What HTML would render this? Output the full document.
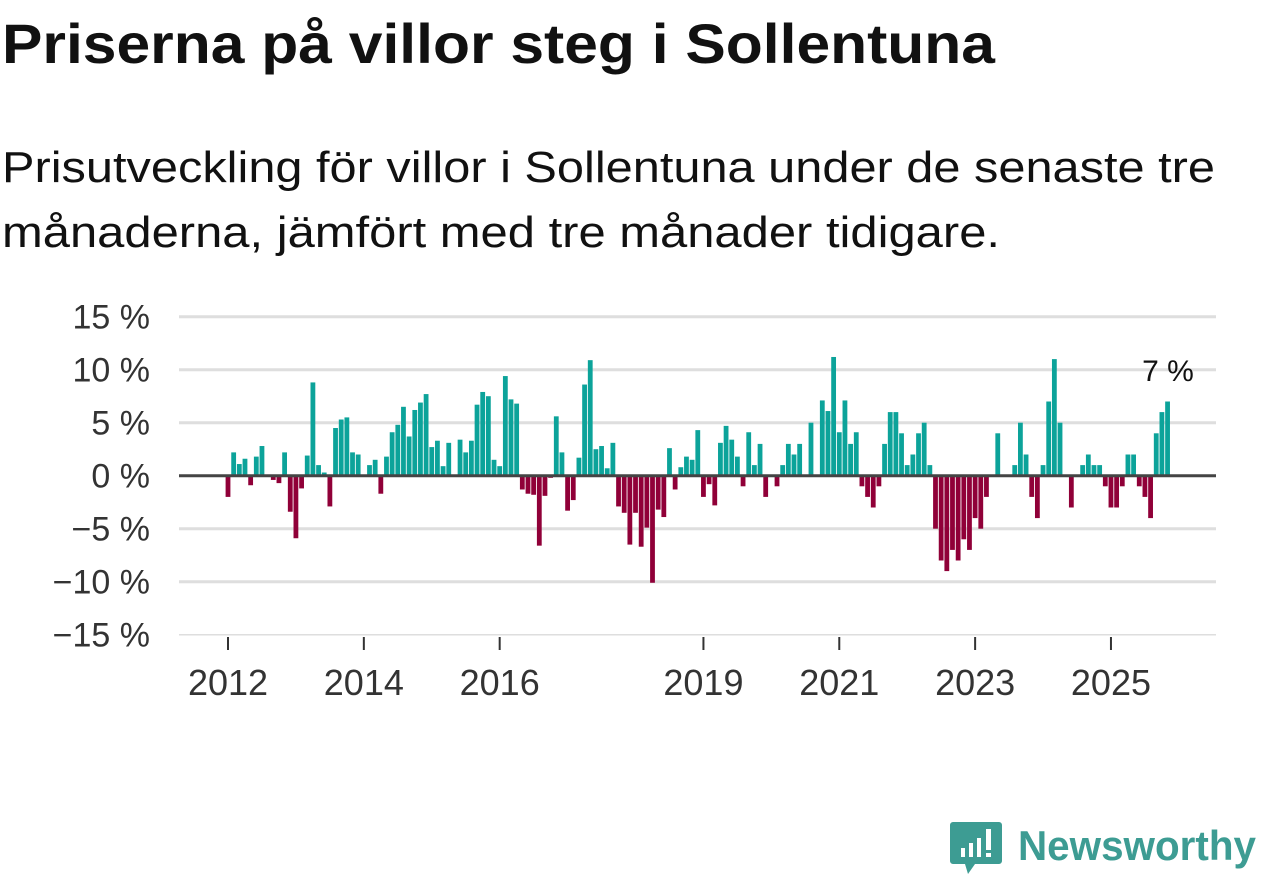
<!DOCTYPE html>
<html><head><meta charset="utf-8"><style>
html,body{margin:0;padding:0;background:#fff;}
svg{display:block;font-family:"Liberation Sans",sans-serif;}
</style></head><body>
<svg id="chart" width="1262" height="879" viewBox="0 0 1262 879" xmlns="http://www.w3.org/2000/svg">
<text x="2" y="63" font-size="56" font-weight="bold" fill="#111" textLength="993" lengthAdjust="spacingAndGlyphs">Priserna på villor steg i Sollentuna</text>
<text x="2" y="182" font-size="44" fill="#111" textLength="1213" lengthAdjust="spacingAndGlyphs">Prisutveckling för villor i Sollentuna under de senaste tre</text>
<text x="2" y="247" font-size="44" fill="#111" textLength="998" lengthAdjust="spacingAndGlyphs">månaderna, jämfört med tre månader tidigare.</text>
<g id="grid"></g>
<g id="bars"></g>
<g id="yaxis"></g>
<g id="xaxis"></g>
<text x="1168" y="381" font-size="30" fill="#111" text-anchor="middle">7 %</text>
<g>
<path d="M953 822 h46 a3 3 0 0 1 3 3 v36 a3 3 0 0 1 -3 3 h-24 l-7 10 l-3 -10 h-12 a3 3 0 0 1 -3 -3 v-36 a3 3 0 0 1 3 -3z" fill="#3d9c93"/>
<rect x="961" y="848" width="4" height="9" fill="#fff"/>
<rect x="969" y="843" width="4" height="14" fill="#fff"/>
<rect x="977" y="838" width="4" height="19" fill="#fff"/>
<rect x="986" y="829" width="5" height="21" fill="#fff"/>
<rect x="986" y="853" width="5" height="4" fill="#fff"/>
<text x="1018" y="860" font-size="42" font-weight="bold" fill="#3d9c93" textLength="238" lengthAdjust="spacingAndGlyphs">Newsworthy</text>
</g>
</svg>
<script>
const values = [-2,2.2,1.1,1.6,-0.9,1.8,2.8,0,-0.4,-0.7,2.2,-3.4,
-5.9,-1.2,1.9,8.8,1.0,0.3,-2.9,4.5,5.3,5.5,2.2,2.0,
0,1.0,1.5,-1.7,1.8,4.1,4.8,6.5,3.7,6.2,6.9,7.7,
2.7,3.3,0.9,3.1,0,3.4,2.2,3.3,6.7,7.9,7.5,1.5,
0.9,9.4,7.2,6.8,-1.3,-1.7,-1.8,-6.6,-1.9,-0.2,5.6,2.2,
-3.3,-2.3,1.7,8.6,10.9,2.5,2.8,0.7,3.1,-2.9,-3.5,-6.5,
-3.5,-6.7,-4.9,-10.1,-3.2,-3.9,2.6,-1.3,0.8,1.8,1.5,4.3,
-2,-0.8,-2.8,3.1,4.7,3.4,1.8,-1,4.1,1,3,-2,
0,-1,1,3,2,3,0,5,0,7.1,6.1,11.2,
4.1,7.1,3,4.1,-1,-2,-3,-1,3,6,6,4,
1,2,4,5,1,-5,-8,-9,-7,-8,-6,-7,
-4,-5,-2,0,4,0,0,1,5,2,-2,-4,
1,7,11,5,0,-3,0,1,2,1,1,-1,
-3,-3,-1,2,2,-1,-2,-4,4,6,7];
const startYear = 2012;
const yTicks = [15,10,5,0,-5,-10,-15];
const yTickLabels = ["15 %","10 %","5 %","0 %","\u22125 %","\u221210 %","\u221215 %"];
const xTickYears = [2012,2014,2016,2019,2021,2023,2025];

const NS="http://www.w3.org/2000/svg";
const left=179,right=1216,x0=228,monthW=5.66;
function y(v){return 475.7 - v*10.6;}
function x(i){return x0 + i*monthW;}
function mk(tag,attrs,parent){const e=document.createElementNS(NS,tag);for(const k in attrs)e.setAttribute(k,attrs[k]);parent.appendChild(e);return e;}
const grid=document.getElementById('grid'),bars=document.getElementById('bars'),ya=document.getElementById('yaxis'),xa=document.getElementById('xaxis');
yTicks.forEach((t,k)=>{
  if(t!==0){const l=mk('line',{x1:left,x2:right,y1:y(t),y2:y(t),stroke:'#dedede','stroke-width':t===-15?1.5:3},grid);
  
  }
  const lb=mk('text',{x:150,y:y(t)+12,'font-size':34,fill:'#333','text-anchor':'end'},ya);
  lb.textContent=yTickLabels[k];
  
  
});
values.forEach((v,i)=>{
  const top=v>=0?y(v):y(0), h=Math.abs(y(v)-y(0));
  const r=mk('rect',{x:x(i)-2.4,y:top,width:4.8,height:h,fill:v>=0?'#0ca39a':'#900038'},bars);
  
  
});
const zl=mk('line',{x1:left,x2:right,y1:y(0),y2:y(0),stroke:'#444','stroke-width':3},bars);


xTickYears.forEach(yr=>{
  const xi=x((yr-startYear)*12);
  const tk=mk('line',{x1:xi,x2:xi,y1:637,y2:650,stroke:'#333','stroke-width':2},xa);
  
  
  const lb=mk('text',{x:xi,y:695,'font-size':36,fill:'#333','text-anchor':'middle'},xa);
  lb.textContent=yr;
  
  
});
</script>
</body></html>
